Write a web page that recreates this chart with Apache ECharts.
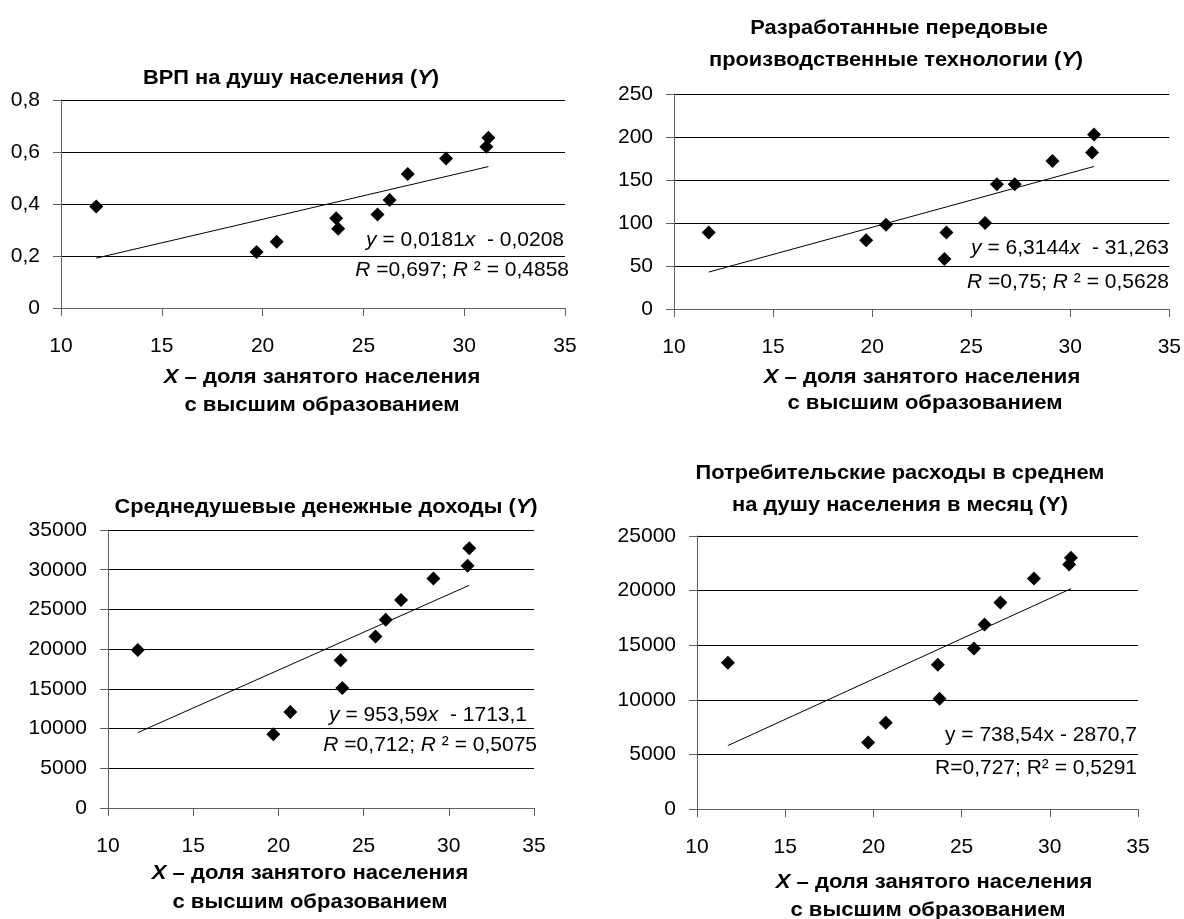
<!DOCTYPE html>
<html>
<head>
<meta charset="utf-8">
<script src="https://cdn.jsdelivr.net/npm/echarts@6/dist/echarts.min.js"></script>
<style>html,body{margin:0;padding:0;background:#fff}#c{width:1184px;height:919px}</style>
</head>
<body>
<div id="c"></div>
<script>
// ---- data ----
const shareX = [11.75, 19.7, 20.7, 23.65, 23.75, 25.7, 26.3, 27.2, 29.1, 31.1, 31.2];
const grpY = [0.39, 0.215, 0.255, 0.345, 0.305, 0.36, 0.415, 0.515, 0.575, 0.62, 0.655];
const techY = [89, 80, 98, 58, 89, 100, 145, 145, 172, 182, 203];
const incomeY = [19900, 9300, 12100, 18600, 15100, 21600, 23700, 26200, 28900, 30500, 32700];
const expenseY = [13400, 6100, 7900, 13200, 10100, 14700, 16900, 18900, 21100, 22400, 23000];
const slopes = [0.0181, 6.3144, 953.59, 738.54];
const intercepts = ["-0,0208", "-31,263", "-1713,1", "-2870,7"];
const slopeTxt = ["0,0181", "6,3144", "953,59", "738,54"];
const rTxt = ["0,697", "0,75", "0,712", "0,727"];
const r2Txt = ["0,4858", "0,5628", "0,5075", "0,5291"];
const yMax = [0.8, 250, 35000, 25000];
const yStep = [0.2, 50, 5000, 5000];
const xTicks = [10, 15, 20, 25, 30, 35];

const FONT = '"Liberation Sans", Arial, sans-serif';
const chart = echarts.init(document.getElementById('c'), null, {renderer: 'canvas'});

const grids = [
  {left: 61, right: 619, top: 100, bottom: 611},
  {left: 674, right: 14, top: 94, bottom: 610},
  {left: 108, right: 650, top: 530, bottom: 111},
  {left: 697, right: 46, top: 536, bottom: 110}
];
const series = [grpY, techY, incomeY, expenseY];

const xAxis = grids.map((g, i) => ({
  gridIndex: i, type: 'value', min: xTicks[0], max: xTicks[xTicks.length - 1], interval: 5,
  axisLine: {show: true, lineStyle: {color: '#606060', width: 1}},
  axisTick: {show: true, length: 8, lineStyle: {color: '#606060'}},
  splitLine: {show: false},
  axisLabel: {margin: 28, color: '#000', fontSize: 21, fontFamily: FONT}
}));
const yAxis = grids.map((g, i) => ({
  gridIndex: i, type: 'value', min: 0, max: yMax[i], interval: yStep[i],
  axisLine: {show: true, lineStyle: {color: '#606060', width: 1}},
  axisTick: {show: true, length: 8, lineStyle: {color: '#606060'}},
  splitLine: {show: true, lineStyle: {color: '#000', width: 1}},
  axisLabel: {margin: 21, color: '#000', fontSize: 21, fontFamily: FONT,
    formatter: v => String(+v.toFixed(4)).replace('.', ',')}
}));

const xMin = Math.min(...shareX), xMaxV = Math.max(...shareX);
const seriesList = [];
series.forEach((ys, i) => {
  seriesList.push({
    type: 'scatter', xAxisIndex: i, yAxisIndex: i,
    data: shareX.map((x, k) => [x, ys[k]]),
    symbol: 'diamond', symbolSize: 14,
    itemStyle: {color: '#000', opacity: 1}, silent: true, z: 3
  });
  const b = parseFloat(intercepts[i].replace(',', '.'));
  seriesList.push({
    type: 'line', xAxisIndex: i, yAxisIndex: i,
    data: [[xMin, slopes[i] * xMin + b], [xMaxV, slopes[i] * xMaxV + b]],
    symbol: 'none', lineStyle: {color: '#000', width: 1}, silent: true, z: 2
  });
});

function txt(x, y, text, opts) {
  opts = opts || {};
  const size = opts.size || 21;
  const w = opts.bold ? 'bold' : 'normal';
  return {
    type: 'text', x: x, y: y, silent: true, scaleX: opts.sx || 1,
    style: {
      text: text, fill: '#000', fontFamily: FONT, fontSize: size, fontWeight: w,
      align: opts.align || 'center', verticalAlign: 'middle',
      rich: {
        i: {fontStyle: 'italic', fontFamily: FONT, fontSize: size, fontWeight: w}
      }
    }
  };
}

const axisName1 = '{i|X} – доля занятого населения';
const axisName2 = 'с высшим образованием';
const eq = (i, italic) => italic
  ? '{i|y} = ' + slopeTxt[i] + '{i|x}  - ' + intercepts[i].slice(1)
  : 'y = ' + slopeTxt[i] + 'x - ' + intercepts[i].slice(1);
const rr = (i, italic) => italic
  ? '{i|R} =' + rTxt[i] + '; {i|R} ² = ' + r2Txt[i]
  : 'R=' + rTxt[i] + '; R² = ' + r2Txt[i];

const T = {bold: true, sx: 1.04};
const A = {bold: true, sx: 1.05};
const E = {align: 'right'};
const graphics = [
  // titles
  txt(291, 78, 'ВРП на душу населения ({i|Y})', T),
  txt(899, 28, 'Разработанные передовые', T),
  txt(896, 60, 'производственные технологии ({i|Y})', T),
  txt(326, 507, 'Среднедушевые денежные доходы ({i|Y})', T),
  txt(900, 473, 'Потребительские расходы в среднем', T),
  txt(900, 505, 'на душу населения в месяц (Y)', T),
  // axis names
  txt(322, 377, axisName1, A), txt(322, 405, axisName2, A),
  txt(922, 377, axisName1, A), txt(925, 403, axisName2, A),
  txt(310, 873, axisName1, A), txt(310, 902, axisName2, A),
  txt(934, 882, axisName1, A), txt(928, 910, axisName2, A),
  // equations
  txt(564, 240, eq(0, true), E), txt(569, 270, rr(0, true), E),
  txt(1169, 248, eq(1, true), E), txt(1169, 282, rr(1, true), E),
  txt(527, 715, eq(2, true), E), txt(537, 745, rr(2, true), E),
  txt(1137, 735, eq(3, false), E), txt(1137, 768, rr(3, false), E)
];

chart.setOption({
  animation: false,
  backgroundColor: '#fff',
  grid: grids,
  xAxis: xAxis,
  yAxis: yAxis,
  series: seriesList,
  graphic: {elements: graphics}
});
</script>
</body>
</html>
